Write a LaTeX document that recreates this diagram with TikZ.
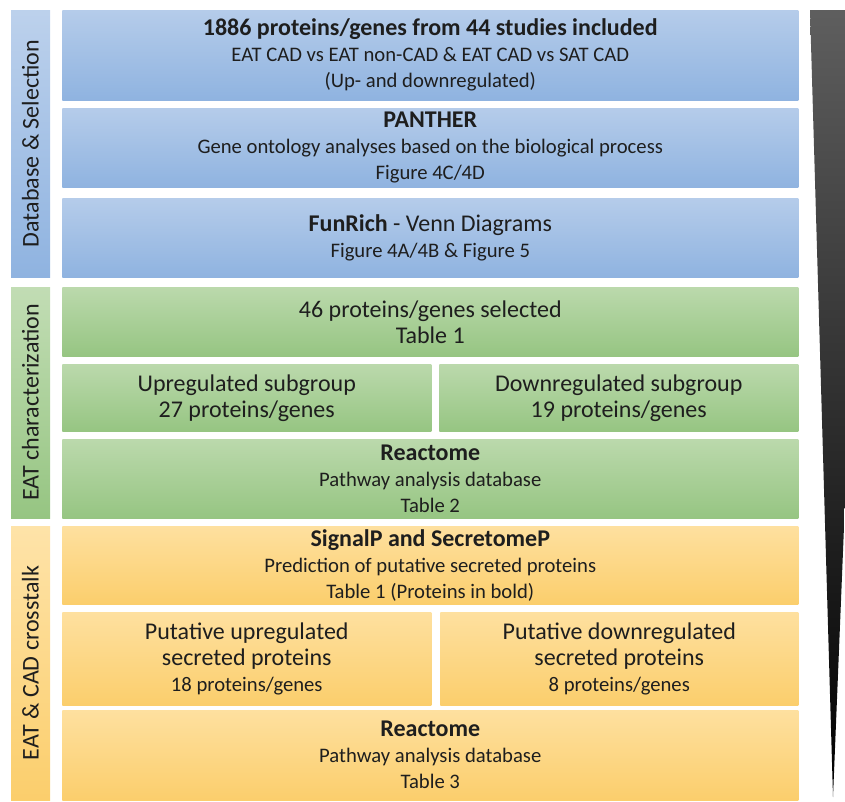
\documentclass[tikz,border=0pt]{standalone}
\usepackage{fontspec}
\setmainfont{Carlito}

\definecolor{txt}{HTML}{1E1E1E}
\definecolor{blueT}{HTML}{B5CCEA}
\definecolor{blueB}{HTML}{8FB3E0}
\definecolor{greenT}{HTML}{BBD9AC}
\definecolor{greenB}{HTML}{96C582}
\definecolor{orangeT}{HTML}{FEE09F}
\definecolor{orangeB}{HTML}{FBCE6C}

% heading line inside a panel
\newcommand{\panelhead}[1]{{\fontsize{18}{21}\selectfont\bfseries #1}}
% larger body line
\newcommand{\panelbig}[1]{{\fontsize{18}{21}\selectfont #1}}

\begin{document}
\begin{tikzpicture}[x=1pt,y=1pt,font=\fontsize{15.5}{19.5}\selectfont]
    \tikzset{
      panel/.style={anchor=north west, inner sep=0pt, align=center, text=txt},
      bluep/.style={panel, top color=blueT, bottom color=blueB},
      greenp/.style={panel, top color=greenT, bottom color=greenB},
      orangep/.style={panel, top color=orangeT, bottom color=orangeB},
      side/.style={rotate=90, inner sep=0pt, minimum height=29.25,
                   font=\fontsize{18}{21}\selectfont, text=txt},
    }
    \useasboundingbox (0,0) rectangle (633.75,-600.75);

    % stage labels on the left
    \node[side, top color=blueT!90, bottom color=blueB, minimum width=200.25]
      (sdb) at (22.875,-107.625) {Database \& Selection};
    \node[side, top color=greenT!90, bottom color=greenB, minimum width=173.25]
      (seat) at (22.875,-301.875) {EAT characterization};
    \node[side, top color=orangeT!90, bottom color=orangeB, minimum width=205.5]
      (scad) at (22.875,-497.25) {EAT \& CAD crosstalk};

    % database and selection
    \node[bluep, minimum width=552, minimum height=67.5] (db) at (46.5,-7.5)
      {\panelhead{1886 proteins/genes from 44 studies included}\\
       EAT CAD vs EAT non-CAD \& EAT CAD vs SAT CAD\\
       (Up- and downregulated)};
    \node[bluep, minimum width=552, minimum height=59.25] (panther) at (46.5,-81)
      {\panelhead{PANTHER}\\
       Gene ontology analyses based on the biological process\\
       Figure 4C/4D};
    \node[bluep, minimum width=552, minimum height=59.25] (funrich) at (46.5,-148.5)
      {\panelbig{\textbf{FunRich} - Venn Diagrams}\\
       Figure 4A/4B \& Figure 5};

    % EAT characterization
    \node[greenp, minimum width=552, minimum height=51.75] (sel) at (46.5,-215.25)
      {\panelbig{46 proteins/genes selected}\\ \panelbig{Table 1}};
    \node[greenp, minimum width=276.75, minimum height=50.25] (up) at (46.5,-273)
      {\panelbig{Upregulated subgroup}\\ \panelbig{27 proteins/genes}};
    \node[greenp, minimum width=269.25, minimum height=50.25] (down) at (329.25,-273)
      {\panelbig{Downregulated subgroup}\\ \panelbig{19 proteins/genes}};
    \node[greenp, minimum width=552, minimum height=59.25] (react) at (46.5,-329.25)
      {\panelhead{Reactome}\\
       Pathway analysis database\\
       Table 2};

    % EAT and CAD crosstalk
    \node[orangep, minimum width=552, minimum height=58.5] (signal) at (46.5,-394.5)
      {\panelhead{SignalP and SecretomeP}\\
       Prediction of putative secreted proteins\\
       Table 1 (Proteins in bold)};
    \node[orangep, minimum width=276.75, minimum height=69.75] (pup) at (46.5,-459)
      {\panelbig{Putative upregulated}\\ \panelbig{secreted proteins}\\
       18 proteins/genes};
    \node[orangep, minimum width=268.5, minimum height=69.75] (pdown) at (330,-459)
      {\panelbig{Putative downregulated}\\ \panelbig{secreted proteins}\\
       8 proteins/genes};
    \node[orangep, minimum width=552, minimum height=67.5] (react2) at (46.5,-532.5)
      {\panelhead{Reactome}\\
       Pathway analysis database\\
       Table 3};

    % narrowing wedge on the right
    \begin{scope}
      \clip (0,0) rectangle (633.75,-600.75);
      \shade[top color=black!63, middle color=black!95, bottom color=black]
        (607.5,-7.5) -- (648.75,-7.5) -- (624.75,-597.75) -- cycle;
    \end{scope}
\end{tikzpicture}
\end{document}
